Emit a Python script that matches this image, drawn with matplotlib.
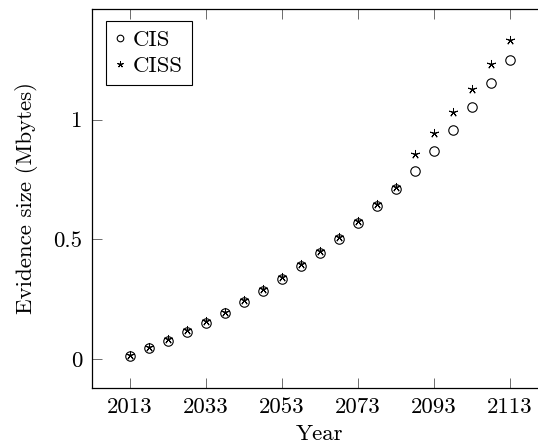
import matplotlib
matplotlib.use("Agg")
import matplotlib.pyplot as plt

plt.rcParams["font.family"] = "cmr10"
plt.rcParams["mathtext.fontset"] = "cm"
plt.rcParams["axes.formatter.use_mathtext"] = True

years = list(range(2013, 2114, 5))
cis = [0.012, 0.045, 0.076, 0.113, 0.151, 0.191, 0.238, 0.284, 0.333, 0.388,
       0.442, 0.502, 0.567, 0.638, 0.708, 0.784, 0.868, 0.955, 1.051, 1.153, 1.250]
ciss = [0.017, 0.050, 0.082, 0.119, 0.157, 0.197, 0.244, 0.290, 0.340, 0.395,
        0.450, 0.510, 0.575, 0.647, 0.716, 0.858, 0.942, 1.030, 1.129, 1.231, 1.331]
xticks = [2013, 2033, 2053, 2073, 2093, 2113]
yticks = [0, 0.5, 1]
yticklabels = ["0", "0.5", "1"]

FS = 16.5

W, H = 538, 445
fig = plt.figure(figsize=(W / 100, H / 100), dpi=100)
# axes frame runs past the right edge of the canvas
left, right, top, bottom = 92, 548, 9, 388
ax = fig.add_axes([left / W, (H - bottom) / H, (right - left) / W, (bottom - top) / H])

ax.plot(years, cis, linestyle="none", marker="o", markersize=6.8,
        markerfacecolor="none", markeredgecolor="black", markeredgewidth=0.8,
        label="CIS")
ax.plot(years, ciss, linestyle="none", marker=(5, 2, 0), markersize=6.5,
        color="black", markeredgewidth=0.7, label="CISS")

ax.set_xlim(2003, 2123)
ax.set_ylim(-0.122, 1.462)
ax.set_xticks(xticks)
ax.set_xticklabels([str(v) for v in xticks])
ax.set_yticks(yticks)
ax.set_yticklabels(yticklabels)
ax.tick_params(direction="in", length=7, width=0.6, color="#555555",
               top=True, right=True, labelsize=FS, pad=7)
for s in ax.spines.values():
    s.set_linewidth(0.9)

ax.set_xlabel("Year", fontsize=FS, labelpad=5)
ax.set_ylabel("Evidence size (Mbytes)", fontsize=FS, labelpad=11)

leg = ax.legend(loc="upper left", bbox_to_anchor=((106 - left) / (right - left), (bottom - 21) / (bottom - top)),
                borderaxespad=0, fancybox=False, edgecolor="black", framealpha=1,
                fontsize=FS, handlelength=0.45, handletextpad=0.3, labelspacing=0.25,
                borderpad=0.4, markerscale=0.7)
leg.get_frame().set_linewidth(0.8)

fig.savefig("out.png", dpi=100)
